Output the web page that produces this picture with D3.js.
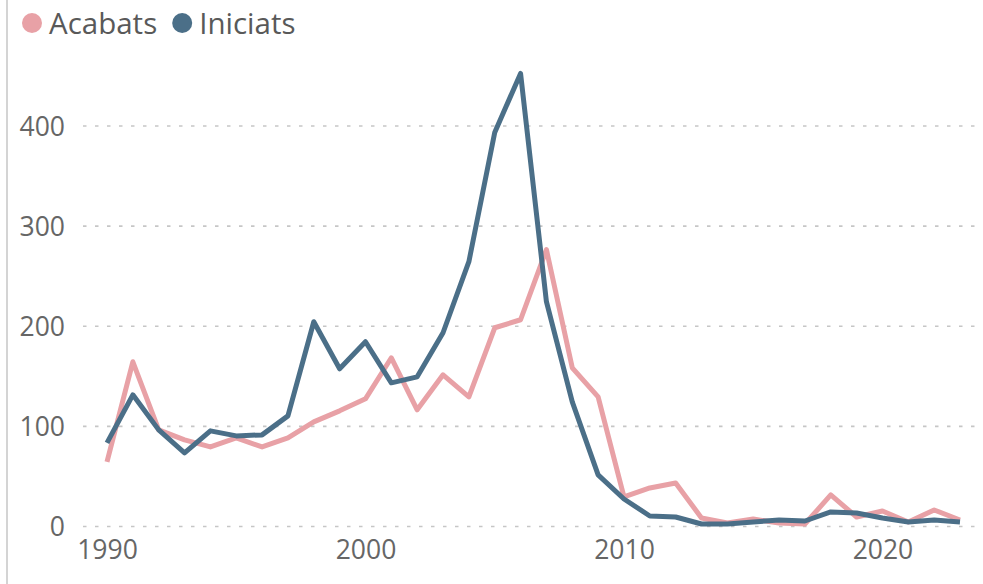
<!DOCTYPE html>
<html>
<head>
<meta charset="utf-8">
<script src="https://cdn.jsdelivr.net/npm/d3@7"></script>
<style>
  html, body { margin: 0; padding: 0; background: #fff; }
  svg { display: block; }
  text { font-family: "Open Sans", "Noto Sans", sans-serif; }
</style>
</head>
<body>
<svg id="chart" width="983" height="584"></svg>
<script>
// Yearly counts, 1990–2023
const years = d3.range(1990, 2024);
const acabats = [64, 164, 96, 86, 79, 88, 79, 88, 104, 115, 127, 168, 116, 151, 129, 198, 206, 276, 158, 129,
                 29, 38, 43, 8, 3, 7, 3, 2, 31, 9, 15, 4, 16, 6];
const iniciats = [83, 131, 96, 73, 95, 90, 91, 110, 204, 157, 184, 143, 149, 193, 264, 393, 452, 224, 124, 51,
                  27, 10, 9, 2, 2, 4, 6, 5, 14, 13, 8, 4, 6, 4];
const yTicks = [0, 100, 200, 300, 400];
const xTicks = [1990, 2000, 2010, 2020];
const seriesNames = ["Acabats", "Iniciats"];
const seriesColors = ["#E8A1A6", "#4B6F88"];

const svg = d3.select("#chart");

const x = d3.scaleLinear().domain([1990, 2023]).range([107, 960]);
const y = d3.scaleLinear().domain([0, 400]).range([526, 125.5]);

// left border line
svg.append("line")
  .attr("x1", 7).attr("x2", 7).attr("y1", 0).attr("y2", 584)
  .attr("stroke", "#d4d4d4").attr("stroke-width", 2);

// horizontal dotted gridlines
const yAxis = svg.append("g")
  .attr("transform", "translate(83,0)")
  .call(d3.axisLeft(y).tickValues(yTicks).tickSize(-(978 - 83)).tickPadding(18).tickFormat(d3.format("d")));
yAxis.select(".domain").remove();
yAxis.selectAll(".tick line")
  .attr("stroke", "#c6c6c6").attr("stroke-width", 1.6).attr("stroke-dasharray", "3.5,8.5");
yAxis.selectAll(".tick text")
  .attr("fill", "#666").attr("font-size", 26.5).attr("dy", "0.36em");

// x axis labels
const xAxis = svg.append("g")
  .attr("transform", "translate(0,526)")
  .call(d3.axisBottom(x).tickValues(xTicks).tickSize(0).tickPadding(14).tickFormat(d3.format("d")));
xAxis.select(".domain").remove();
xAxis.selectAll(".tick text")
  .attr("fill", "#666").attr("font-size", 26.5);

// series lines
const line = d3.line().x((d, i) => x(years[i])).y(d => y(d));
[acabats, iniciats].forEach((vals, k) => {
  svg.append("path")
    .datum(vals)
    .attr("d", line)
    .attr("fill", "none")
    .attr("stroke", seriesColors[k])
    .attr("stroke-width", 5)
    .attr("stroke-linejoin", "round")
    .attr("stroke-linecap", "butt");
});

// legend
const legend = svg.append("g");
let lx = 32;
seriesNames.forEach((name, k) => {
  legend.append("circle")
    .attr("cx", lx).attr("cy", 23).attr("r", 10)
    .attr("fill", seriesColors[k]);
  const t = legend.append("text")
    .attr("x", lx + 17).attr("y", 34)
    .attr("font-size", 29.5).attr("fill", "#595959")
    .text(name);
  lx = lx + 17 + t.node().getComputedTextLength() + 25;
});
</script>
</body>
</html>
